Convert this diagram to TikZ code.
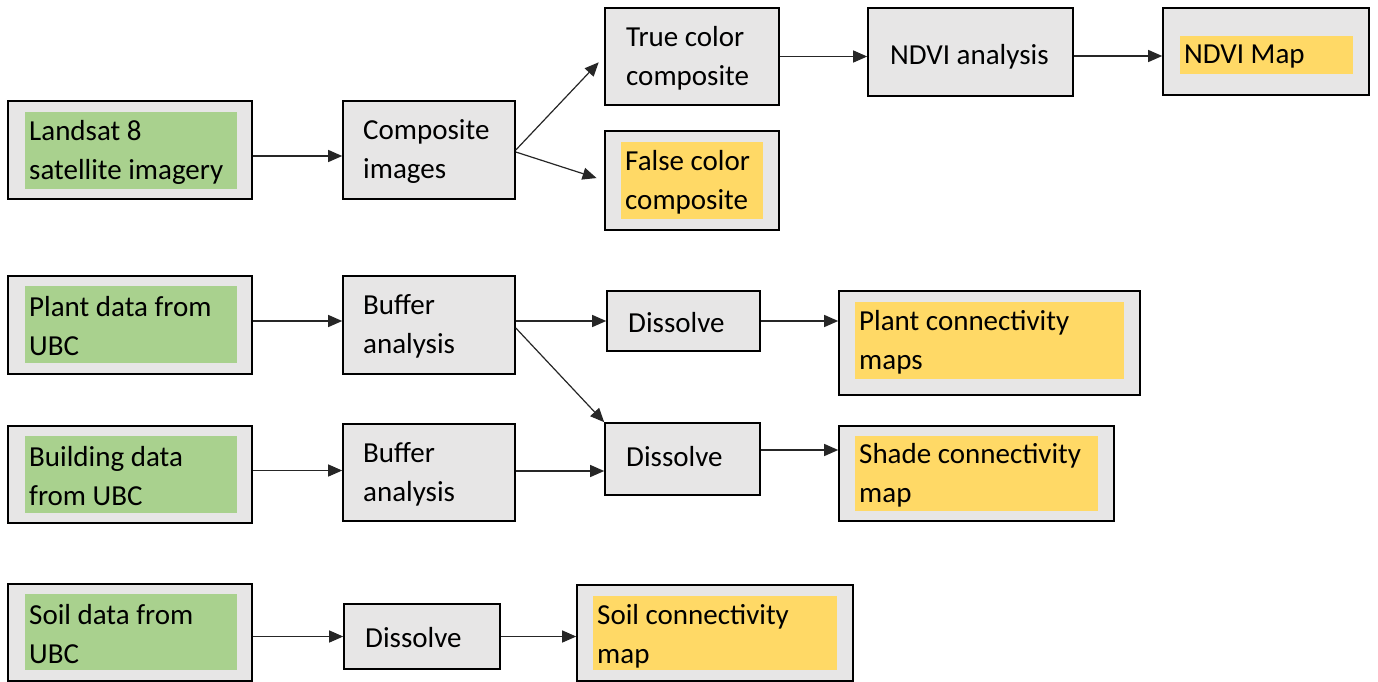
\documentclass[tikz,border=0pt]{standalone}
\usepackage{fontspec}
\setmainfont{Carlito}
\usetikzlibrary{fit,arrows.meta}
\definecolor{boxgray}{HTML}{E7E6E6}
\definecolor{ingreen}{HTML}{A9D18E}
\definecolor{inyellow}{HTML}{FFD966}
\tikzset{
  box/.style={draw=black, line width=1.6pt, fill=boxgray, inner sep=0pt},
  gfill/.style={fill=ingreen, inner sep=0pt},
  yfill/.style={fill=inyellow, inner sep=0pt},
  txt/.style={anchor=west, align=left, inner sep=0pt, yshift=-1.5pt, font=\fontsize{29}{39}\selectfont},
  arr/.style={draw=black!85, line width=1.2pt, -{Triangle[length=14pt,width=12pt]}}
}
\begin{document}
\begin{tikzpicture}[x=1pt,y=-1pt]
\useasboundingbox (0,0) rectangle (1378,681);
% row 1
\node[box, fit={(8,101) (252,199)}] (land) {};
\node[gfill, fit={(25,112) (237,189)}] (landin) {};
\node[txt] (landt) at (29,150.5) {Landsat 8\\satellite imagery};
\node[box, fit={(343,101) (515,199)}] (comp) {};
\node[txt] (compt) at (363,150.5) {Composite\\images};
\node[box, fit={(605,8) (779,105)}] (true) {};
\node[txt] (truet) at (626,57) {True color\\composite};
\node[box, fit={(605,131) (779,230)}] (false) {};
\node[yfill, fit={(621,142) (763,219)}] (falsein) {};
\node[txt] (falset) at (625,180.5) {False color\\composite};
\node[box, fit={(868,8) (1073,96)}] (ndvi) {};
\node[txt] (ndvit) at (890,55) {NDVI analysis};
\node[box, fit={(1163,8) (1369,95)}] (map) {};
\node[yfill, fit={(1180,36) (1353,74)}] (mapin) {};
\node[txt] (mapt) at (1184,55) {NDVI Map};
% row 2
\node[box, fit={(8,276) (252,374)}] (plant) {};
\node[gfill, fit={(25,286) (237,363)}] (plantin) {};
\node[txt] (plantt) at (29,325) {Plant data from\\UBC};
\node[box, fit={(343,276) (515,374)}] (bufa) {};
\node[txt] (bufat) at (363,325) {Buffer\\analysis};
\node[box, fit={(607,291) (760,351)}] (disa) {};
\node[txt] (disat) at (628,321) {Dissolve};
\node[box, fit={(839,291) (1140,395)}] (pc) {};
\node[yfill, fit={(855,302) (1124,379)}] (pcin) {};
\node[txt] (pct) at (859,340.5) {Plant connectivity\\maps};
% row 3
\node[box, fit={(8,426) (252,523)}] (bld) {};
\node[gfill, fit={(25,436) (237,513)}] (bldin) {};
\node[txt] (bldt) at (29,474.5) {Building data\\from UBC};
\node[box, fit={(343,424) (515,521)}] (bufb) {};
\node[txt] (bufbt) at (363,473) {Buffer\\analysis};
\node[box, fit={(605,423) (760,495)}] (disb) {};
\node[txt] (disbt) at (626,455) {Dissolve};
\node[box, fit={(839,426) (1114,521)}] (sh) {};
\node[yfill, fit={(855,436) (1098,511)}] (shin) {};
\node[txt] (sht) at (859,474) {Shade connectivity\\map};
% row 4
\node[box, fit={(8,584) (252,681)}] (soil) {};
\node[gfill, fit={(25,594) (237,670)}] (soilin) {};
\node[txt] (soilt) at (29,632.5) {Soil data from\\UBC};
\node[box, fit={(344,604) (500,669)}] (disc) {};
\node[txt] (disct) at (365,636) {Dissolve};
\node[box, fit={(577,585) (853,681)}] (sc) {};
\node[yfill, fit={(593,596) (837,670)}] (scin) {};
\node[txt] (sct) at (597,634.5) {Soil connectivity\\map};
% connectors
\draw[arr] ([yshift=-6pt]land.east) -- ([yshift=-6pt]comp.west);
\draw[arr, shorten >=8pt] (comp.east) -- (true.west);
\draw[arr, shorten >=8pt] ([yshift=-2pt]comp.east) -- (false.west);
\draw[arr] (true.east) -- (true.east -| ndvi.west);
\draw[arr] ([yshift=-4pt]ndvi.east) -- ([yshift=-4pt]ndvi.east -| map.west);
\draw[arr] ([yshift=4pt]plant.east) -- ([yshift=4pt]bufa.west);
\draw[arr] (bufa.east |- disa.west) -- (disa.west);
\draw[arr] ([yshift=-3pt]bufa.east) -- (disb.north west);
\draw[arr] ([yshift=4pt]bld.east) -- ([yshift=4pt]bld.east -| bufb.west);
\draw[arr] ([yshift=1.5pt]bufb.east) -- ([yshift=1.5pt]bufb.east -| disb.west);
\draw[arr] (disa.east) -- (disa.east -| pc.west);
\draw[arr] ([yshift=9pt]disb.east) -- ([yshift=9pt]disb.east -| sh.west);
\draw[arr] (disc.west -| soil.east) -- (disc.west);
\draw[arr] (disc.east) -- (disc.east -| sc.west);
\end{tikzpicture}
\end{document}
